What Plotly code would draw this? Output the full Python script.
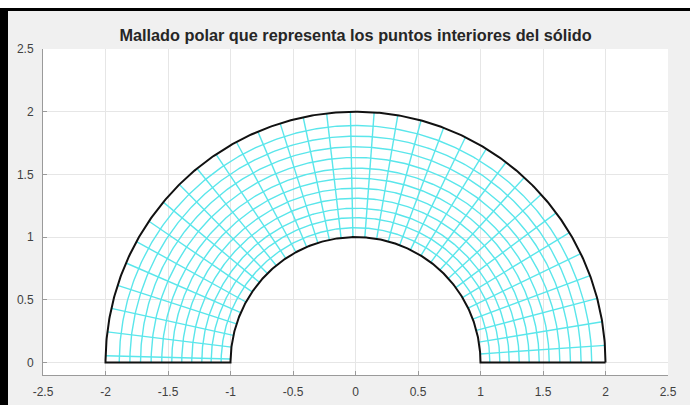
import numpy as np
import plotly.graph_objects as go

# Solid: half annulus between the inner and outer radius
r_int = 1.0
r_ext = 2.0

# Interior mesh: radii of the cyan arcs and angles (deg) of the cyan rays
radios_malla = [1.075, 1.155, 1.23, 1.31, 1.39, 1.47, 1.55, 1.635, 1.72, 1.805, 1.89]
angulos_malla = [3.9, 9.35, 14.8, 20.26, 25.72, 31.17, 36.63, 42.08, 47.54, 52.99,
                 58.45, 63.9, 69.35, 74.81, 80.26, 85.72, 91.17, 96.63, 102.08,
                 107.54, 112.99, 118.45, 123.9, 129.35, 134.81, 140.26, 145.72,
                 151.17, 156.63, 162.08, 167.54, 172.99, 178.45]

# Axis ticks
ticks_x = [-2.5, -2, -1.5, -1, -0.5, 0, 0.5, 1, 1.5, 2, 2.5]
etiquetas_x = ["-2.5", "-2", "-1.5", "-1", "-0.5", "0", "0.5", "1", "1.5", "2", "2.5"]
ticks_y = [0, 0.5, 1, 1.5, 2, 2.5]
etiquetas_y = ["0", "0.5", "1", "1.5", "2", "2.5"]

titulo = "Mallado polar que representa los puntos interiores del sólido"

W, H = 690, 405
L, R, T, B = 43, 668, 49, 375  # plot area in pixels

t = np.linspace(0, np.pi, 361)

# cyan mesh: arcs + rays in one trace
mx, my = [], []
for r in radios_malla:
    mx += list(r * np.cos(t)) + [None]
    my += list(r * np.sin(t)) + [None]
for a in angulos_malla:
    th = np.deg2rad(a)
    mx += [r_int * np.cos(th), r_ext * np.cos(th), None]
    my += [r_int * np.sin(th), r_ext * np.sin(th), None]

# solid outline
bx = list(r_ext * np.cos(t)) + [-r_int] + list(r_int * np.cos(t[::-1])) + [r_ext]
by = list(r_ext * np.sin(t)) + [0] + list(r_int * np.sin(t[::-1])) + [0]

fig = go.Figure()
fig.add_trace(go.Scatter(x=mx, y=my, mode="lines",
                         line=dict(color="rgb(90,230,235)", width=1.4),
                         hoverinfo="skip", showlegend=False))
fig.add_trace(go.Scatter(x=bx, y=by, mode="lines",
                         line=dict(color="#111111", width=2),
                         hoverinfo="skip", showlegend=False))

pw, ph = R - L, B - T


def px(xp):
    return (xp - L) / pw


def py(yp):
    return (B - yp) / ph


shapes = [
    # white strip above the window frame
    dict(type="rect", xref="paper", yref="paper", x0=px(0), x1=px(W), y0=py(8), y1=py(0),
         fillcolor="white", line=dict(width=0), layer="above"),
    # frame: top line and left bar
    dict(type="rect", xref="paper", yref="paper", x0=px(0), x1=px(W), y0=py(11), y1=py(8),
         fillcolor="black", line=dict(width=0), layer="above"),
    dict(type="rect", xref="paper", yref="paper", x0=px(0), x1=px(8), y0=py(H), y1=py(8),
         fillcolor="black", line=dict(width=0), layer="above"),
]

axis_common = dict(showgrid=True, gridcolor="#e6e6e6", gridwidth=1, zeroline=False,
                   showline=True, linecolor="#9a9a9a", linewidth=1,
                   ticks="inside", ticklen=4, tickcolor="#9a9a9a", automargin=False,
                   tickfont=dict(family="Liberation Sans, Arial", size=12, color="#404040"))

fig.update_layout(
    width=W, height=H,
    margin=dict(l=L, r=W - R, t=T, b=H - B),
    paper_bgcolor="#f0f0f0", plot_bgcolor="white",
    title=dict(text="<b>" + titulo + "</b>", x=0.5, xref="paper", xanchor="center",
               y=1 - 35 / H, yanchor="middle",
               font=dict(family="Liberation Sans, Arial", size=16.3, color="#262626")),
    xaxis=dict(range=[-2.5, 2.5], tickvals=ticks_x, ticktext=etiquetas_x,
               ticklabelstandoff=6, **axis_common),
    yaxis=dict(range=[-0.1, 2.5], tickvals=ticks_y, ticktext=etiquetas_y,
               ticklabelstandoff=6, **axis_common),
    shapes=shapes,
)

fig.write_html("out.html")
